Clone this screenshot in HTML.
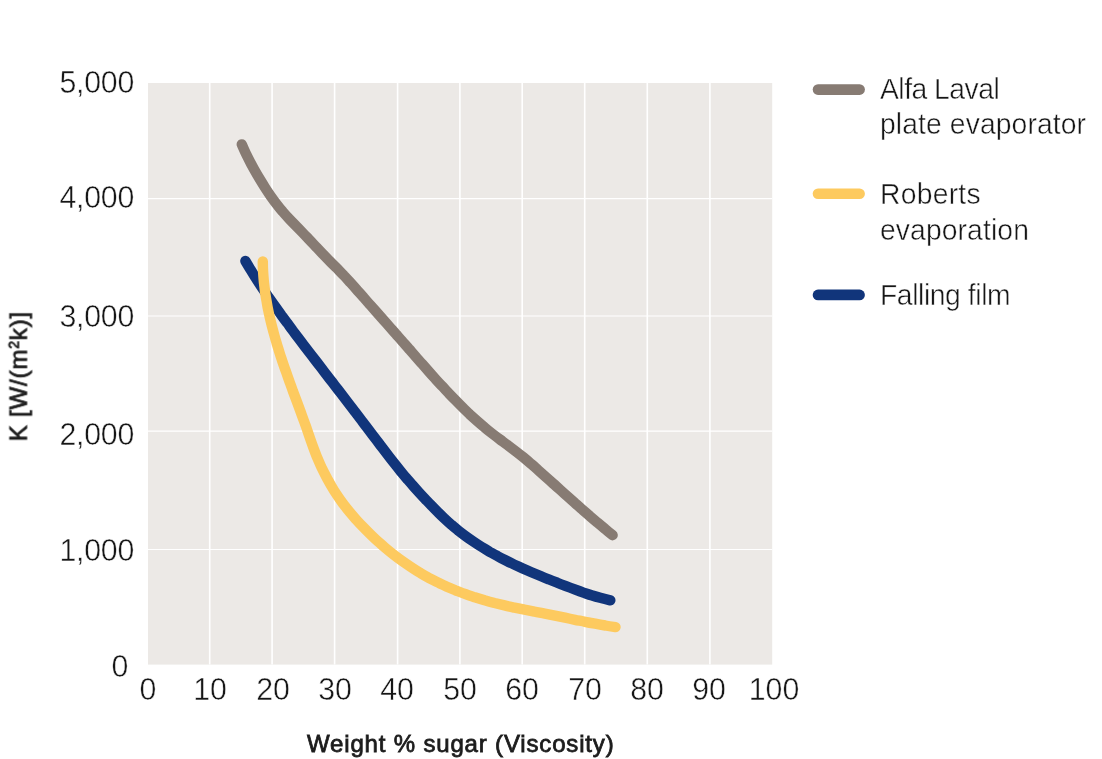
<!DOCTYPE html>
<html>
<head>
<meta charset="utf-8">
<title>Chart</title>
<style>
html,body{margin:0;padding:0;background:#fff;}
body{width:1102px;height:759px;position:relative;overflow:hidden;font-family:"Liberation Sans",sans-serif;color:#161616;}
svg{position:absolute;left:0;top:0;}
.t{position:absolute;white-space:nowrap;line-height:1;-webkit-text-stroke:0.45px #fff;will-change:transform;}
.yl{font-size:30.3px;text-align:right;width:120px;left:13.9px;transform:scaleY(1.02);letter-spacing:-0.25px;}
.xl{font-size:30.3px;transform:scaleY(1.02);text-align:center;width:100px;}
.lg{font-size:28.3px;left:879.5px;transform:scaleY(1.04);transform-origin:0 84.65%;}
.ax{font-size:24px;letter-spacing:0.83px;-webkit-text-stroke:0.8px #1c1c1c;color:#1c1c1c;}
</style>
</head>
<body>
<svg width="1102" height="759" viewBox="0 0 1102 759">
  <rect x="148" y="83" width="624.2" height="581.6" fill="#ece9e6"/>
  <g stroke="#faf9f8" stroke-width="1.6" fill="none">
    <path stroke="#fff" stroke-width="1.6" d="M209.7 83V664.6M272.1 83V664.6M334.6 83V664.6M397.6 83V664.6M459.9 83V664.6M522.2 83V664.6M584.7 83V664.6M647.3 83V664.6M709.9 83V664.6"/>
    <path stroke="#fff" stroke-width="1.2" d="M148 198.7H772.2M148 316H772.2M148 431.1H772.2M148 549.5H772.2"/>
  </g>
  <g fill="none" stroke-width="10.4" stroke-linecap="round" stroke-linejoin="round">
    <path stroke="#877b73" d="M241.8 144.4C243.0 147.4 244.4 150.4 245.8 153.4C247.2 156.3 248.7 159.2 250.2 162.1C251.7 165.0 253.3 167.9 254.9 170.8C256.5 173.7 258.2 176.5 259.9 179.3C261.6 182.1 263.3 184.9 265.1 187.7C266.9 190.5 268.7 193.2 270.6 195.9C272.5 198.6 274.4 201.2 276.4 203.8C278.4 206.4 280.4 209.0 282.6 211.5C284.7 214.0 286.9 216.4 289.2 218.8C291.4 221.1 293.7 223.5 296.0 225.9C298.3 228.2 300.6 230.6 302.9 233.0C305.2 235.3 307.4 237.7 309.7 240.1C312.0 242.5 314.2 244.9 316.5 247.3C318.7 249.7 321.0 252.1 323.2 254.4C325.5 256.8 327.8 259.2 330.1 261.5C332.4 263.8 334.8 266.1 337.1 268.4C339.4 270.8 341.7 273.1 343.9 275.5C346.2 277.9 348.4 280.4 350.6 282.8C352.8 285.2 355.0 287.7 357.1 290.2C359.3 292.6 361.5 295.1 363.7 297.5C365.8 300.0 368.0 302.5 370.2 304.9C372.4 307.4 374.6 309.9 376.7 312.3C378.9 314.8 381.1 317.2 383.3 319.7C385.5 322.2 387.6 324.6 389.8 327.1C392.0 329.6 394.2 332.0 396.3 334.5C398.5 337.0 400.7 339.4 402.8 341.9C405.0 344.4 407.2 346.8 409.3 349.3C411.5 351.8 413.6 354.3 415.8 356.7C418.0 359.2 420.1 361.7 422.3 364.1C424.5 366.6 426.7 369.1 428.8 371.5C431.0 374.0 433.2 376.4 435.4 378.9C437.6 381.3 439.8 383.7 442.1 386.1C444.3 388.5 446.6 390.9 448.8 393.3C451.1 395.7 453.4 398.1 455.7 400.4C458.0 402.8 460.3 405.1 462.6 407.4C465.0 409.7 467.3 412.0 469.7 414.3C472.1 416.5 474.6 418.7 477.0 420.9C479.5 423.1 481.9 425.2 484.5 427.3C487.0 429.5 489.5 431.5 492.1 433.5C494.7 435.5 497.3 437.5 500.0 439.5C502.6 441.4 505.2 443.4 507.9 445.3C510.5 447.3 513.2 449.3 515.8 451.3C518.4 453.3 520.9 455.3 523.5 457.4C526.0 459.5 528.5 461.6 531.0 463.8C533.5 465.9 535.9 468.1 538.4 470.3C540.8 472.5 543.3 474.7 545.7 476.9C548.2 479.1 550.6 481.3 553.1 483.5C555.5 485.7 558.0 487.8 560.4 490.0C562.9 492.2 565.3 494.4 567.8 496.6C570.2 498.8 572.7 501.0 575.1 503.2C577.6 505.3 580.0 507.5 582.5 509.7C585.0 511.8 587.5 514.0 589.9 516.2C592.4 518.3 594.9 520.4 597.4 522.6C599.9 524.7 602.4 526.8 605.0 528.9C607.5 531.1 610.0 533.2 612.6 535.2"/>
    <path stroke="#11357b" d="M245.4 261.0C247.0 263.7 248.6 266.4 250.2 269.1C251.8 271.7 253.4 274.3 255.1 277.0C256.8 279.6 258.5 282.2 260.2 284.8C261.9 287.4 263.6 289.9 265.4 292.5C267.1 295.1 268.9 297.6 270.7 300.2C272.5 302.7 274.3 305.2 276.1 307.8C277.9 310.3 279.7 312.8 281.5 315.3C283.4 317.8 285.2 320.3 287.1 322.8C288.9 325.3 290.8 327.8 292.6 330.3C294.5 332.8 296.3 335.3 298.2 337.7C300.1 340.2 302.0 342.7 303.8 345.2C305.7 347.6 307.6 350.1 309.5 352.6C311.4 355.0 313.3 357.5 315.2 360.0C317.1 362.4 319.0 364.9 320.9 367.4C322.8 369.8 324.6 372.3 326.5 374.7C328.4 377.2 330.3 379.7 332.2 382.1C334.1 384.6 336.0 387.0 337.9 389.5C339.8 392.0 341.7 394.4 343.6 396.9C345.5 399.4 347.4 401.8 349.3 404.3C351.2 406.7 353.1 409.2 354.9 411.7C356.8 414.2 358.7 416.6 360.6 419.1C362.5 421.6 364.3 424.1 366.2 426.5C368.1 429.0 370.0 431.5 371.8 434.0C373.7 436.4 375.6 438.9 377.5 441.4C379.3 443.9 381.2 446.4 383.1 448.8C385.0 451.3 386.9 453.8 388.7 456.2C390.6 458.7 392.5 461.1 394.5 463.6C396.4 466.0 398.3 468.4 400.3 470.8C402.3 473.2 404.2 475.6 406.3 478.0C408.3 480.3 410.3 482.7 412.4 485.0C414.4 487.3 416.5 489.6 418.6 491.9C420.7 494.2 422.8 496.5 425.0 498.8C427.1 501.0 429.2 503.3 431.4 505.5C433.6 507.8 435.7 510.0 438.0 512.2C440.2 514.4 442.4 516.5 444.7 518.7C446.9 520.8 449.2 522.9 451.6 524.9C453.9 527.0 456.3 528.9 458.7 530.9C461.2 532.8 463.6 534.7 466.1 536.5C468.6 538.3 471.2 540.1 473.7 541.8C476.3 543.6 478.9 545.3 481.6 546.9C484.2 548.5 486.9 550.1 489.5 551.7C492.2 553.2 495.0 554.8 497.7 556.2C500.4 557.7 503.2 559.1 506.0 560.5C508.7 561.9 511.5 563.3 514.3 564.6C517.1 565.9 520.0 567.2 522.8 568.5C525.6 569.8 528.5 571.0 531.4 572.2C534.2 573.4 537.1 574.6 540.0 575.8C542.8 577.0 545.7 578.2 548.6 579.3C551.5 580.5 554.4 581.6 557.3 582.7C560.2 583.9 563.1 585.0 566.0 586.1C568.9 587.2 571.8 588.3 574.7 589.4C577.6 590.5 580.5 591.6 583.4 592.6C586.4 593.6 589.3 594.6 592.3 595.5C595.2 596.5 598.2 597.3 601.2 598.1C604.2 599.0 607.2 599.7 610.3 600.4"/>
    <path stroke="#fdca5f" d="M262.8 261.4C262.8 264.9 262.9 268.4 263.1 271.8C263.3 275.2 263.6 278.7 263.9 282.1C264.3 285.5 264.7 288.9 265.1 292.3C265.6 295.7 266.2 299.1 266.8 302.4C267.3 305.8 268.0 309.2 268.7 312.5C269.4 315.8 270.2 319.2 271.0 322.5C271.8 325.8 272.7 329.1 273.6 332.5C274.5 335.8 275.4 339.1 276.4 342.3C277.3 345.6 278.4 348.9 279.4 352.2C280.4 355.5 281.5 358.7 282.6 362.0C283.7 365.2 284.8 368.5 286.0 371.7C287.1 375.0 288.2 378.2 289.4 381.4C290.6 384.7 291.8 387.9 292.9 391.1C294.1 394.3 295.3 397.5 296.5 400.7C297.7 404.0 298.9 407.2 300.1 410.4C301.3 413.6 302.4 416.8 303.6 420.0C304.8 423.2 305.9 426.4 307.1 429.7C308.2 432.9 309.3 436.2 310.4 439.4C311.5 442.6 312.7 445.9 313.9 449.1C315.1 452.3 316.3 455.5 317.6 458.6C318.9 461.8 320.4 464.9 321.8 468.0C323.3 471.1 324.9 474.2 326.5 477.2C328.1 480.2 329.8 483.2 331.5 486.2C333.2 489.2 335.0 492.1 336.9 494.9C338.8 497.8 340.8 500.6 342.8 503.3C344.9 506.1 347.0 508.7 349.1 511.4C351.3 514.0 353.5 516.6 355.8 519.2C358.1 521.7 360.4 524.2 362.8 526.7C365.2 529.2 367.6 531.6 370.1 534.0C372.5 536.4 375.0 538.8 377.6 541.1C380.1 543.4 382.7 545.6 385.3 547.9C387.9 550.1 390.6 552.3 393.3 554.4C396.0 556.5 398.7 558.6 401.5 560.6C404.3 562.6 407.1 564.5 410.0 566.4C412.8 568.3 415.7 570.2 418.7 572.0C421.6 573.7 424.5 575.5 427.5 577.1C430.5 578.7 433.6 580.3 436.7 581.9C439.7 583.4 442.8 584.8 445.9 586.2C449.1 587.6 452.2 589.0 455.4 590.3C458.6 591.5 461.8 592.8 465.0 593.9C468.2 595.1 471.5 596.2 474.7 597.3C478.0 598.3 481.3 599.3 484.6 600.3C487.9 601.2 491.2 602.1 494.5 603.0C497.8 603.8 501.1 604.6 504.5 605.4C507.8 606.2 511.2 606.9 514.5 607.6C517.9 608.3 521.2 609.0 524.6 609.7C528.0 610.3 531.3 611.0 534.7 611.7C538.1 612.3 541.4 613.0 544.8 613.6C548.2 614.3 551.5 614.9 554.9 615.6C558.3 616.3 561.6 617.0 565.0 617.7C568.3 618.4 571.7 619.1 575.0 619.8C578.4 620.5 581.8 621.1 585.1 621.8C588.5 622.5 591.8 623.1 595.2 623.7C598.6 624.4 602.0 625.0 605.3 625.5C608.7 626.1 612.1 626.6 615.5 627.1"/>
    <path stroke="#877b73" stroke-width="10.6" d="M818 89.6H859.6"/>
    <path stroke="#fdca5f" stroke-width="10.6" d="M818 193.8H859.6"/>
    <path stroke="#11357b" stroke-width="10.6" d="M818 294.9H859.6"/>
  </g>
</svg>
<div class="t yl" style="top:68px">5,000</div>
<div class="t yl" style="top:183px">4,000</div>
<div class="t yl" style="top:302px">3,000</div>
<div class="t yl" style="top:420px">2,000</div>
<div class="t yl" style="top:536px">1,000</div>
<div class="t yl" style="top:652px;left:8px">0</div>

<div class="t xl" style="top:675px;left:98px">0</div>
<div class="t xl" style="top:675px;left:160.2px">10</div>
<div class="t xl" style="top:675px;left:222.6px">20</div>
<div class="t xl" style="top:675px;left:285px">30</div>
<div class="t xl" style="top:675px;left:347.4px">40</div>
<div class="t xl" style="top:675px;left:409.8px">50</div>
<div class="t xl" style="top:675px;left:472.2px">60</div>
<div class="t xl" style="top:675px;left:534.6px">70</div>
<div class="t xl" style="top:675px;left:597px">80</div>
<div class="t xl" style="top:675px;left:659.4px">90</div>
<div class="t xl" style="top:675px;left:724px">100</div>

<div class="t lg" style="top:74.7px;letter-spacing:-0.5px">Alfa Laval</div>
<div class="t lg" style="top:109.7px;letter-spacing:0.1px">plate evaporator</div>
<div class="t lg" style="top:179.9px;letter-spacing:0.25px">Roberts</div>
<div class="t lg" style="top:215.7px;letter-spacing:0.1px">evaporation</div>
<div class="t lg" style="top:280.9px;letter-spacing:-0.42px">Falling film</div>

<div class="t ax" id="xt" style="left:307.2px;top:732.4px">Weight % sugar (Viscosity)</div>
<div class="t ax" id="yt" style="left:0;top:0;transform-origin:0 0;transform:translate(6.7px,441.3px) rotate(-90deg)">K [W/(m<span style="font-size:14px;position:relative;top:-8px">2</span>k)]</div>
</body>
</html>
